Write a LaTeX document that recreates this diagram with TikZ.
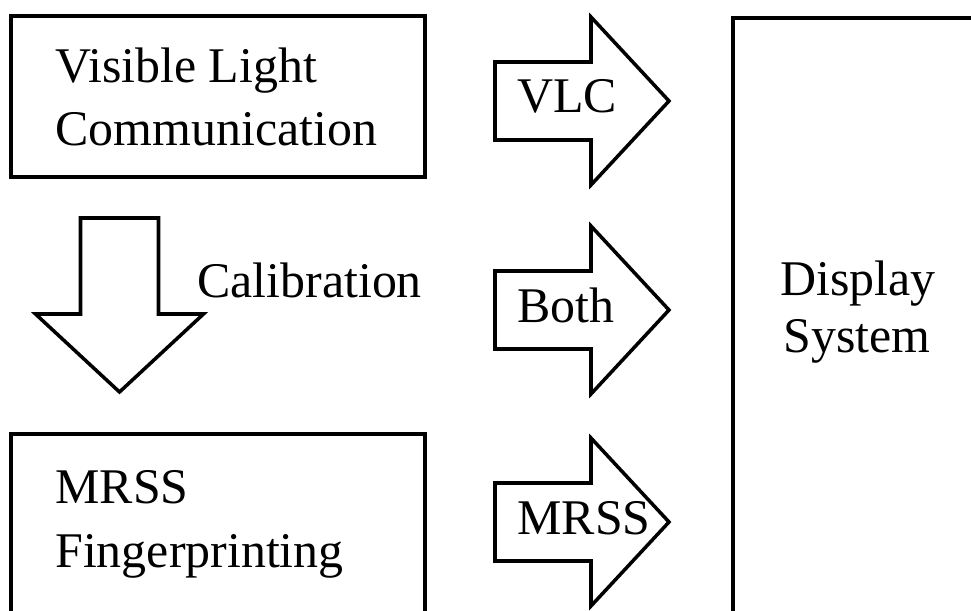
\documentclass[tikz,border=0pt]{standalone}
\usepackage{fontspec}
\setmainfont{Liberation Serif}
\usetikzlibrary{positioning}

\newcommand{\bigtext}{\fontsize{28.4pt}{35.3pt}\selectfont}

\begin{document}
\begin{tikzpicture}[
    scale=1,
    blockbox/.style={draw, line width=2pt, inner sep=0pt},
    txt/.style={anchor=base west, inner sep=0pt, font=\bigtext, align=left},
    fatarrow/.pic={
        \draw[line width=2pt, line join=miter]
            (0,0.78) -- (1.92,0.78) -- (1.92,1.68) -- (3.48,0)
            -- (1.92,-1.68) -- (1.92,-0.78) -- (0,-0.78) -- cycle;
    }
    ]
    \useasboundingbox (0,0) rectangle (19.42,12.2);
    \clip (0,0) rectangle (19.42,12.2);

    % the three boxes, the lower ones run past the edge
    \node[blockbox, minimum width=8.28cm, minimum height=3.22cm] (vlcbox) at (4.36,10.27) {};
    \node[blockbox, minimum width=8.28cm, minimum height=4.52cm] (mrssbox) at (4.36,1.26) {};
    \node[blockbox, minimum width=5.34cm, minimum height=12.84cm] (dispbox) at (17.33,5.42) {};

    \node[txt] (vlctext) at (1.1,10.54) {Visible Light};
    \node[txt] (vlctext2) at (1.1,9.30) {Communication};
    \node[txt] (mrsstext) at (1.1,2.14) {MRSS};
    \node[txt] (mrsstext2) at (1.1,0.86) {Fingerprinting};
    \node[txt] (disptext) at (15.6,6.30) {Display};
    \node[txt] (disptext2) at (15.66,5.16) {System};

    % calibration step
    \pic[rotate=-90] at (2.39,7.84) {fatarrow};
    \node[txt] (calib) at (3.94,6.26) {Calibration};

    % what goes to the display
    \foreach \y/\name/\word in {10.18/avlc/VLC, 6.0/aboth/Both, 1.76/amrss/MRSS}{
        \pic at (9.9,\y) {fatarrow};
        \node[txt] (\name) at (10.34,\y-0.24) {\word};
    }

\end{tikzpicture}
\end{document}
